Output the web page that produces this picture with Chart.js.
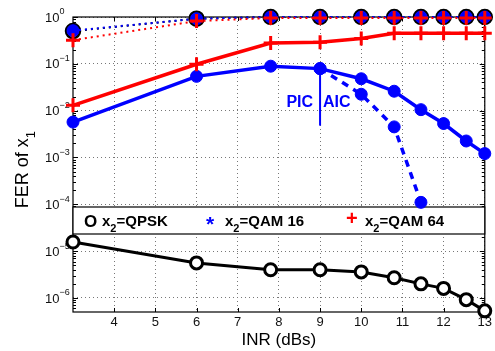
<!DOCTYPE html>
<html>
<head>
<meta charset="utf-8">
<script src="https://cdn.jsdelivr.net/npm/chart.js@4/dist/chart.umd.min.js"></script>
<style>
  html, body { margin: 0; padding: 0; background: #fff; }
  #wrap { width: 495px; height: 351px; }
</style>
</head>
<body>
<div id="wrap"><canvas id="chart"></canvas></div>
<script>
// INR (dBs) sample points
var inr = [3, 6, 7.8, 9, 10, 10.8, 11.45, 12, 12.55, 13];

// curves stuck near 1 (dotted)
var qpskTop  = [0.5, 0.92, 1, 1, 1, 1, 1, 1, 1, 1];
var qam16Top = [0.51, 0.92, 1, 1, 1, 1, 1, 1, 1, 1];
var qam64Top = [0.32, 0.82, 0.95, 0.95, 0.95, 0.95, 0.95, 0.95, 0.95, 0.95];

// solid curves
var qam64 = [0.013, 0.098, 0.279, 0.29, 0.346, 0.45, 0.45, 0.45, 0.45, 0.45];
var qam16 = [0.0057, 0.054, 0.089, 0.079, 0.048, 0.026, 0.0105, 0.0053, 0.00225, 0.00121];
var qpsk  = [1.57e-5, 5.6e-6, 4.0e-6, 4.0e-6, 3.6e-6, 2.7e-6, 2.0e-6, 1.6e-6, 9.2e-7, 5.3e-7];

// QAM 16 with AIC (dashed branch from 9 dB)
var qam16Aic = [null, null, null, 0.079, 0.0224, 0.0045, 1.1e-4, null, null, null];

var yDecades = [0, -1, -2, -3, -4, -5, -6];
var xTicks = [4, 5, 6, 7, 8, 9, 10, 11, 12, 13];

var BLUE = '#0000ff', RED = '#ff0000', BLACK = '#000000';
var FONT = "'Liberation Sans', Arial, Helvetica, sans-serif";

function pts(arr) {
  var out = [];
  for (var i = 0; i < inr.length; i++) {
    if (arr[i] !== null) out.push({ x: inr[i], y: arr[i] });
  }
  return out;
}

var circleRing = { pointStyle: 'circle', pointRadius: 6, pointBorderWidth: 3,
  pointBorderColor: BLACK, pointBackgroundColor: '#fff' };
var bigRing = { pointStyle: 'circle', pointRadius: 7, pointBorderWidth: 2.5,
  pointBorderColor: BLACK, pointBackgroundColor: '#fff' };
var blueDot = { pointStyle: 'circle', pointRadius: 6, pointBorderWidth: 1,
  pointBorderColor: BLUE, pointBackgroundColor: BLUE };
var redPlus = { pointStyle: 'cross', pointRadius: 7, pointBorderWidth: 3,
  pointBorderColor: RED, pointBackgroundColor: RED };

var dots = [2, 4];
var datasets = [
  Object.assign({ data: pts(qpskTop), borderColor: BLACK, borderWidth: 2, borderDash: dots, order: 6 }, bigRing),
  Object.assign({ data: pts(qam16Top), borderColor: BLUE, borderWidth: 2, borderDash: dots, order: 5 }, blueDot),
  Object.assign({ data: pts(qam64Top), borderColor: RED, borderWidth: 2, borderDash: dots, order: 4 }, redPlus),
  Object.assign({ data: pts(qam64), borderColor: RED, borderWidth: 3.5, order: 1 }, redPlus),
  Object.assign({ data: pts(qam16), borderColor: BLUE, borderWidth: 3.5, order: 2 }, blueDot),
  Object.assign({ data: pts(qam16Aic), borderColor: BLUE, borderWidth: 3.5, borderDash: [7, 6], order: 3 }, blueDot),
  Object.assign({ data: pts(qpsk), borderColor: BLACK, borderWidth: 3, order: 7 }, circleRing)
];
datasets.forEach(function (d) { d.tension = 0; d.clip = false; d.fill = false; });

function textWithSub(ctx, x, y, main, sub, rest, size, bold) {
  var w = bold ? 'bold ' : '';
  ctx.font = w + size + 'px ' + FONT;
  ctx.fillText(main, x, y);
  x += ctx.measureText(main).width;
  ctx.font = w + Math.round(size * 0.7) + 'px ' + FONT;
  ctx.fillText(sub, x, y + size * 0.4);
  x += ctx.measureText(sub).width;
  ctx.font = w + size + 'px ' + FONT;
  if (rest) ctx.fillText(rest, x, y);
}

var decor = {
  id: 'decor',
  beforeDatasetsDraw: function (chart) {
    var ctx = chart.ctx, a = chart.chartArea;
    var xs = chart.scales.x, ys = chart.scales.y;
    ctx.save();
    // frame
    ctx.strokeStyle = BLACK;
    ctx.lineWidth = 1.2;
    ctx.strokeRect(a.left, a.top, a.right - a.left, a.bottom - a.top);
    // inward ticks
    ctx.lineWidth = 1;
    ctx.beginPath();
    xTicks.forEach(function (v) {
      var px = Math.round(xs.getPixelForValue(v)) + 0.5;
      ctx.moveTo(px, a.bottom); ctx.lineTo(px, a.bottom - 4);
      ctx.moveTo(px, a.top); ctx.lineTo(px, a.top + 4);
    });
    for (var d = -7; d <= 0; d++) {
      for (var m = 1; m <= 9; m++) {
        var v = m * Math.pow(10, d);
        if (v < ys.min || v > ys.max) continue;
        var py = Math.round(ys.getPixelForValue(v)) + 0.5;
        var len = m === 1 ? 5 : 3;
        ctx.moveTo(a.left, py); ctx.lineTo(a.left + len, py);
        ctx.moveTo(a.right, py); ctx.lineTo(a.right - len, py);
      }
    }
    ctx.stroke();

    // y tick labels 10^k
    ctx.fillStyle = '#111';
    yDecades.forEach(function (k) {
      var py = ys.getPixelForValue(Math.pow(10, k));
      ctx.font = '13px ' + FONT;
      ctx.textBaseline = 'middle';
      ctx.textAlign = 'left';
      ctx.fillText('10', 45, py + 1);
      var w = ctx.measureText('10').width;
      ctx.font = '9px ' + FONT;
      ctx.fillText(k === 0 ? '0' : '\u2212' + (-k), 45 + w, py - 5);
    });

    // y title
    ctx.save();
    ctx.translate(28, 170);
    ctx.rotate(-Math.PI / 2);
    ctx.textBaseline = 'alphabetic';
    ctx.font = '18px ' + FONT;
    var w1 = ctx.measureText('FER of x').width;
    ctx.font = '12px ' + FONT;
    var w2 = ctx.measureText('1').width;
    ctx.fillStyle = BLACK;
    textWithSub(ctx, -(w1 + w2) / 2, 0, 'FER of x', '1', '', 18, false);
    ctx.restore();

    // legend box
    var lt = a.top + 190, lh = 27;
    ctx.fillStyle = '#fff';
    ctx.fillRect(a.left, lt, a.right - a.left, lh);
    ctx.strokeStyle = BLACK;
    ctx.lineWidth = 1.2;
    ctx.strokeRect(a.left, lt, a.right - a.left, lh);
    ctx.textBaseline = 'alphabetic';
    ctx.textAlign = 'left';
    var base = lt + 19;
    ctx.fillStyle = BLACK;
    ctx.font = 'bold 17px ' + FONT;
    ctx.fillText('O', a.left + 11, base + 1);
    textWithSub(ctx, a.left + 29, base, 'x', '2', '=QPSK', 15, true);
    ctx.fillStyle = BLUE;
    ctx.font = 'bold 21px ' + FONT;
    ctx.fillText('*', a.left + 133, base + 5);
    ctx.fillStyle = BLACK;
    textWithSub(ctx, a.left + 152, base, 'x', '2', '=QAM 16', 15, true);
    ctx.fillStyle = RED;
    ctx.font = 'bold 20px ' + FONT;
    ctx.fillText('+', a.left + 273, base - 1);
    ctx.fillStyle = BLACK;
    textWithSub(ctx, a.left + 292, base, 'x', '2', '=QAM 64', 15, true);

    // PIC | AIC marker at 9 dB
    var px9 = xs.getPixelForValue(9);
    ctx.strokeStyle = BLUE;
    ctx.lineWidth = 2;
    ctx.beginPath();
    ctx.moveTo(px9, ys.getPixelForValue(0.079));
    ctx.lineTo(px9, ys.getPixelForValue(Math.pow(10, -2.32)));
    ctx.stroke();
    ctx.fillStyle = BLUE;
    ctx.font = 'bold 16px ' + FONT;
    var ty = ys.getPixelForValue(Math.pow(10, -1.93));
    ctx.textAlign = 'right';
    ctx.fillText('PIC', px9 - 7, ty);
    ctx.textAlign = 'left';
    ctx.fillText('AIC', px9 + 3, ty);
    ctx.restore();
  }
};

new Chart(document.getElementById('chart'), {
  type: 'line',
  data: { datasets: datasets },
  plugins: [decor],
  options: {
    responsive: true,
    maintainAspectRatio: false,
    animation: false,
    layout: { padding: { left: 0, right: 7, top: 17, bottom: 0 } },
    plugins: { legend: { display: false }, tooltip: { enabled: false } },
    scales: {
      x: {
        type: 'linear',
        min: 3,
        max: 13,
        afterFit: function (s) { s.height = 39; },
        afterBuildTicks: function (s) { s.ticks = xTicks.map(function (v) { return { value: v }; }); },
        ticks: { font: { size: 13, family: FONT }, color: '#111', padding: 3, maxRotation: 0, autoSkip: false },
        grid: { color: '#777', lineWidth: 1, drawTicks: false },
        border: { display: false, dash: [1, 3] },
        title: { display: true, text: 'INR (dBs)', color: BLACK,
          font: { size: 17, family: FONT }, padding: { top: 0, bottom: 0 } }
      },
      y: {
        type: 'logarithmic',
        min: Math.pow(10, -6.3),
        max: 1,
        afterFit: function (s) { s.width = 73; },
        afterBuildTicks: function (s) {
          s.ticks = yDecades.map(function (k) { return { value: Math.pow(10, k) }; });
        },
        ticks: { display: false },
        grid: { color: '#777', lineWidth: 1, drawTicks: false },
        border: { display: false, dash: [1, 3] }
      }
    }
  }
});
</script>
</body>
</html>
